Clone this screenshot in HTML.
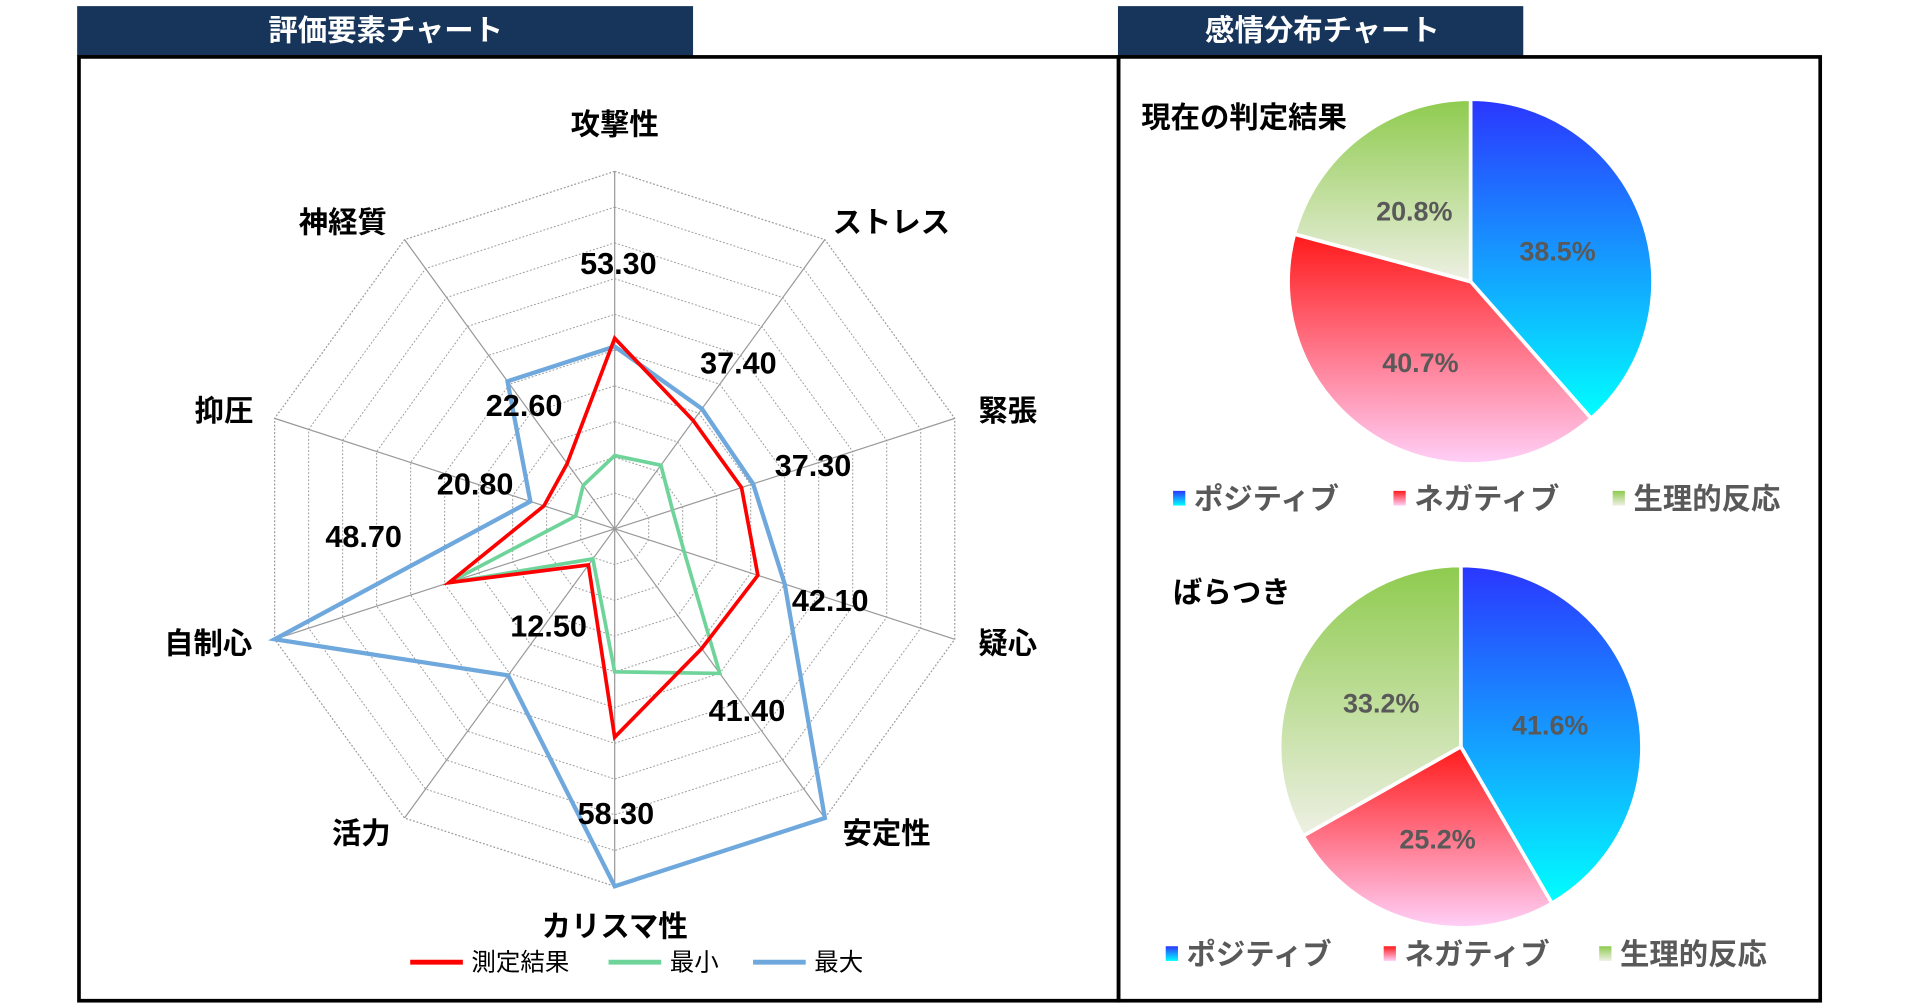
<!DOCTYPE html>
<html><head><meta charset="utf-8"><style>
html,body{margin:0;padding:0;background:#fff;}
svg{display:block;}
text{font-family:"Liberation Sans","Noto Sans CJK JP",sans-serif;font-weight:bold;}
</style></head><body>
<svg width="1920" height="1005" viewBox="0 0 1568 821" preserveAspectRatio="none" xmlns="http://www.w3.org/2000/svg">
<defs>
<linearGradient id="gb" x1="0" y1="0" x2="0" y2="1"><stop offset="0" stop-color="#2b36ff"/><stop offset="1" stop-color="#00ffff"/></linearGradient>
<linearGradient id="gr" x1="0" y1="0" x2="0" y2="1"><stop offset="0" stop-color="#ff1a1a"/><stop offset="1" stop-color="#ffd0f8"/></linearGradient>
<linearGradient id="gg" x1="0" y1="0" x2="0" y2="1"><stop offset="0" stop-color="#8ecb4e"/><stop offset="1" stop-color="#eef0e4"/></linearGradient>
</defs>
<rect x="63" y="5" width="503" height="41" fill="#17355a"/>
<text x="315" y="33" fill="#fff" font-size="24" text-anchor="middle">評価要素チャート</text>
<rect x="913" y="5" width="331" height="41" fill="#17355a"/>
<text x="1080" y="33" fill="#fff" font-size="24" text-anchor="middle">感情分布チャート</text>
<rect x="64.5" y="46.5" width="849" height="771" fill="none" stroke="#000" stroke-width="3"/>
<rect x="913.5" y="46.5" width="573" height="771" fill="none" stroke="#000" stroke-width="3"/>
<g id="radar"></g>
<line x1="335" y1="786" x2="378" y2="786" stroke="#ff0000" stroke-width="4"/>
<text x="385" y="793" font-size="20" style="font-weight:normal">測定結果</text>
<line x1="497" y1="786" x2="540" y2="786" stroke="#6fd49a" stroke-width="4"/>
<text x="547" y="793" font-size="20" style="font-weight:normal">最小</text>
<line x1="615" y1="786" x2="658" y2="786" stroke="#6fa8dc" stroke-width="4"/>
<text x="665" y="793" font-size="20" style="font-weight:normal">最大</text>
<g stroke="#fff" stroke-width="3">
<path d="M1201,230 L1201,81 A149,149 0 0 1 1299.5,341.8 Z" fill="url(#gb)"/>
<path d="M1201,230 L1299.5,341.8 A149,149 0 0 1 1057.1,191.2 Z" fill="url(#gr)"/>
<path d="M1201,230 L1057.1,191.2 A149,149 0 0 1 1201,81 Z" fill="url(#gg)"/>
<path d="M1193,610 L1193,462 A148,148 0 0 1 1267.4,737.9 Z" fill="url(#gb)"/>
<path d="M1193,610 L1267.4,737.9 A148,148 0 0 1 1064.2,682.9 Z" fill="url(#gr)"/>
<path d="M1193,610 L1064.2,682.9 A148,148 0 0 1 1193,462 Z" fill="url(#gg)"/>
</g>
<g fill="#595959" font-size="22" text-anchor="middle">
<text x="1272" y="213">38.5%</text><text x="1160" y="304">40.7%</text><text x="1155" y="180">20.8%</text>
<text x="1266" y="600">41.6%</text><text x="1174" y="693">25.2%</text><text x="1128" y="582">33.2%</text>
</g>
<text x="932" y="104" font-size="24">現在の判定結果</text>
<text x="958" y="492" font-size="24">ばらつき</text>
<g fill="#595959" font-size="24">
<rect x="958" y="401" width="10" height="12" fill="url(#gb)"/><text x="975" y="416">ポジティブ</text>
<rect x="1138" y="401" width="10" height="12" fill="url(#gr)"/><text x="1155" y="416">ネガティブ</text>
<rect x="1317" y="401" width="10" height="12" fill="url(#gg)"/><text x="1334" y="416">生理的反応</text>
<rect x="952" y="773" width="10" height="12" fill="url(#gb)"/><text x="969" y="788">ポジティブ</text>
<rect x="1130" y="773" width="10" height="12" fill="url(#gr)"/><text x="1147" y="788">ネガティブ</text>
<rect x="1306" y="773" width="10" height="12" fill="url(#gg)"/><text x="1323" y="788">生理的反応</text>
</g>
</svg>
<script>
(function(){
var g=document.getElementById('radar'),cx=502,cy=432,R=292,NS='http://www.w3.org/2000/svg';
function pt(i,v){var a=i*Math.PI/5;var r=R*v/100;return [cx+r*Math.sin(a),cy-r*Math.cos(a)];}
function el(t,at){var e=document.createElementNS(NS,t);for(var k in at)e.setAttribute(k,at[k]);g.appendChild(e);return e;}
for(var k=1;k<=10;k++){var p=[];for(var i=0;i<10;i++)p.push(pt(i,k*10).join(','));
el('polygon',{points:p.join(' '),fill:'none',stroke:'#9a9a9a','stroke-width':k==10?1:0.8,'stroke-dasharray':'1.5,1.5'});}
for(var i=0;i<10;i++){var q=pt(i,100);el('line',{x1:cx,y1:cy,x2:q[0],y2:q[1],stroke:'#999','stroke-width':1});}
function poly(v,c,w){var p=v.map(function(x,i){return pt(i,x).join(',');});el('polygon',{points:p.join(' '),fill:'none',stroke:c,'stroke-width':w,'stroke-linejoin':'miter'});}
poly([20.5,22,17,20.4,50,40,10.4,49,11.5,15],'#6fd49a',3);
poly([51,41.5,40.7,50,100,100,50.7,100,24.8,51],'#6fa8dc',3.5);
poly([53.3,37.4,37.3,42.1,41.4,58.3,12.5,48.7,20.8,22.6],'#ff0000',3);
var labs=[['攻撃性',502,110],['ストレス',728,190],['緊張',823,344],['疑心',823,534],['安定性',724,689],['カリスマ性',502,765],['活力',295,689],['自制心',170,534],['抑圧',183,344],['神経質',280,190]];
labs.forEach(function(l){var t=el('text',{x:l[1],y:l[2],'font-size':24,'text-anchor':'middle'});t.textContent=l[0];});
var dl=[['53.30',505,224],['37.40',603,305],['37.30',664,389],['42.10',678,499],['41.40',610,589],['58.30',503,673],['12.50',448,520],['48.70',297,447],['20.80',388,404],['22.60',428,340]];
dl.forEach(function(l){var t=el('text',{x:l[1],y:l[2],'font-size':25,'text-anchor':'middle'});t.textContent=l[0];});
})();
</script>
</body></html>
